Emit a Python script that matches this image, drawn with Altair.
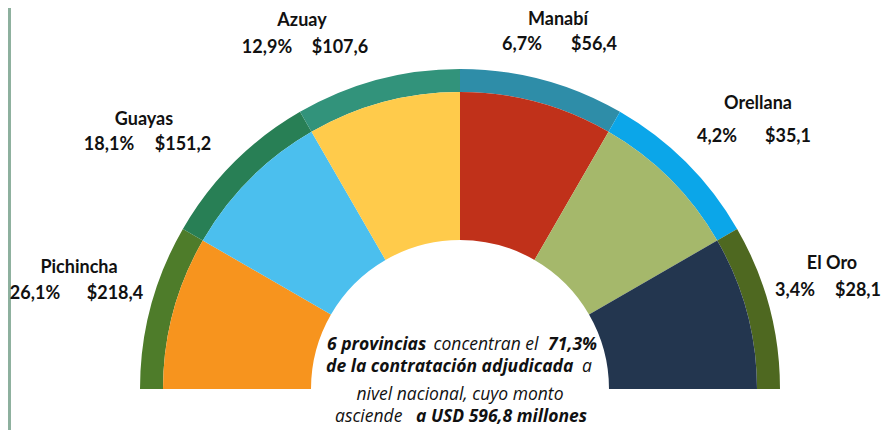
import math
import altair as alt
import pandas as pd

# ---------------- data ----------------
provincias = ["Pichincha", "Guayas", "Azuay", "Manabí", "Orellana", "El Oro"]
participacion = ["26,1%", "18,1%", "12,9%", "6,7%", "4,2%", "3,4%"]
monto = ["$218,4", "$151,2", "$107,6", "$56,4", "$35,1", "$28,1"]
# each province takes an equal slot of the half ring in the original
segmento = [1, 1, 1, 1, 1, 1]

nota_texto = [
    "6 provincias", "concentran el", "71,3%",
    "de la contratación adjudicada", "a",
    "nivel nacional, cuyo monto",
    "asciende", "a USD 596,8 millones",
]
nota_negrita = [True, False, True, True, False, False, False, True]

# ---------------- styles / layout ----------------
wedge_colors = ["#F7941E", "#4BBFEE", "#FFCB4B", "#C0311A", "#A5B86B", "#23364F"]
ring_colors = ["#4E7C2A", "#287F55", "#32937B", "#2E8DA8", "#0BA6E9", "#4E6820"]

W, H = 874, 422
CX, CY = 452, 381
R_HOLE, R_WEDGE, R_RING = 149, 297, 320
FONT = "Lato"
NOTE_FONT = "Open Sans"
NOTE_SIZE = 17.5

# label anchors (plot px): name (center, baseline), pct (center), amount (center), values baseline
name_xy = [(71, 265), (136, 117), (294, 18), (550, 17), (750, 101), (824, 261)]
pct_x = [27, 101, 259, 514, 709, 787]
amt_x = [107, 175, 332, 586, 780, 850]
val_y = [291, 142, 45, 42, 134, 288]

# note segments: (anchor x, baseline y, alignment) in plot px
nota_pos = [(319, 342, "left"), (478, 342, "center"), (589, 342, "right"),
            (318, 364, "left"), (584, 364, "right"),
            (452, 392, "center"),
            (327, 414, "left"), (579, 414, "right")]

# ---------------- tables ----------------
df = pd.DataFrame({"provincia": provincias, "segmento": segmento,
                   "idx": list(range(len(provincias)))})

lab_rows = []
for i, p in enumerate(provincias):
    lab_rows.append({"t": p, "x": name_xy[i][0], "y": name_xy[i][1]})
    lab_rows.append({"t": participacion[i], "x": pct_x[i], "y": val_y[i]})
    lab_rows.append({"t": monto[i], "x": amt_x[i], "y": val_y[i]})
labels = pd.DataFrame(lab_rows)

# ---------------- chart ----------------
theta = alt.Theta("segmento:Q", stack=True,
                  scale=alt.Scale(range=[-math.pi / 2, math.pi / 2]))
base = alt.Chart(df).encode(theta=theta, order=alt.Order("idx:Q"),
                            x=alt.value(CX), y=alt.value(CY))

wedges = base.mark_arc(innerRadius=R_HOLE, outerRadius=R_WEDGE).encode(
    color=alt.Color("provincia:N", legend=None,
                    scale=alt.Scale(domain=provincias, range=wedge_colors)))
ring = base.mark_arc(innerRadius=R_WEDGE, outerRadius=R_RING).encode(
    color=alt.Color("provincia:N", legend=None,
                    scale=alt.Scale(domain=provincias, range=ring_colors)))

lab_layer = alt.Chart(labels).mark_text(
    font=FONT, fontSize=18, fontWeight="bold", color="#111111",
    align="center", baseline="alphabetic").encode(
    x=alt.X("x:Q", scale=None, axis=None),
    y=alt.Y("y:Q", scale=None, axis=None),
    text="t:N")

note_layers = []
for txt, bold, (nx, ny, al) in zip(nota_texto, nota_negrita, nota_pos):
    note_layers.append(
        alt.Chart(df).mark_text(
            text=txt, font=NOTE_FONT, fontSize=NOTE_SIZE,
            fontWeight="bold" if bold else "normal", fontStyle="italic",
            color="#111111", align=al, baseline="alphabetic",
        ).encode(x=alt.value(nx), y=alt.value(ny)).transform_filter("datum.idx == 0")
    )

border = alt.Chart(df).mark_rule(color="#8DB09E", strokeWidth=3).encode(
    x=alt.value(1), y=alt.value(0), y2=alt.value(H))

chart = alt.layer(ring, wedges, border, lab_layer, *note_layers).resolve_scale(
    color="independent"
).properties(
    width=W, height=H, padding=0,
    autosize=alt.AutoSizeParams(type="none"),
    background="white",
).configure_view(stroke=None)

chart.save("out.html", embed_options={"renderer": "svg", "actions": False})
